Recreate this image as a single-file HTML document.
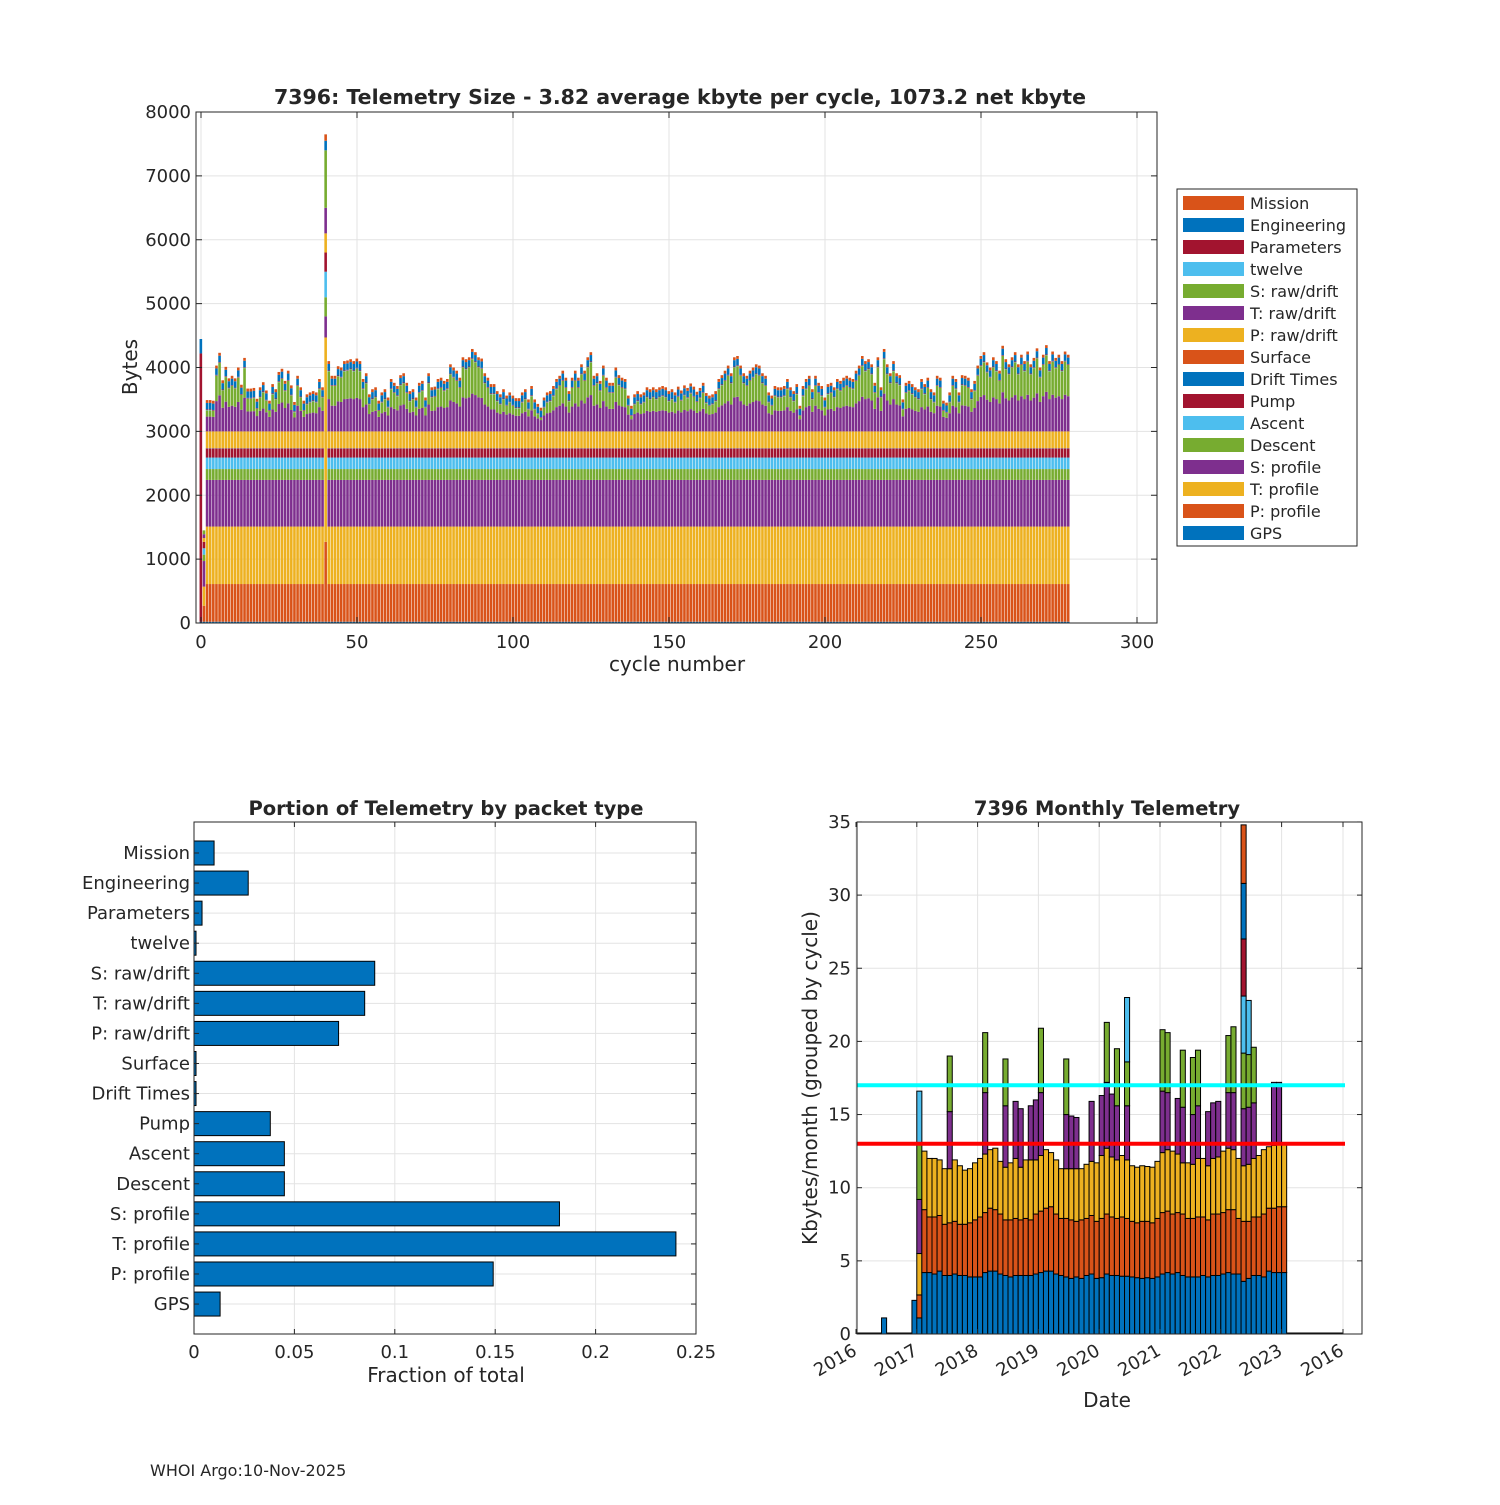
<!DOCTYPE html>
<html><head><meta charset="utf-8">
<style>
html,body{margin:0;padding:0;background:#fff;}
svg text{font-family:"DejaVu Sans","Liberation Sans",sans-serif;fill:#262626;}
</style></head>
<body>
<svg id="fig" width="1500" height="1500" viewBox="0 0 1500 1500" xmlns="http://www.w3.org/2000/svg">
<rect width="1500" height="1500" fill="#fff"/>
<g id="top"></g>
<g id="bl"></g>
<g id="br"></g>
<text x="150" y="1476" font-size="16">WHOI Argo:10-Nov-2025</text>
</svg>
<script>
// ---------- TOP CHART DATA ----------
const layerNames = ["GPS","P: profile","T: profile","S: profile","Descent","Ascent","Pump","Drift Times","Surface","P: raw/drift","T: raw/drift","S: raw/drift","twelve","Parameters","Engineering","Mission"];
const layerColors = ["#0072BD","#D95319","#EDB120","#7E2F8E","#77AC30","#4DBEEE","#A2142F","#0072BD","#D95319","#EDB120","#7E2F8E","#77AC30","#4DBEEE","#A2142F","#0072BD","#D95319"];
const typicalLayerBytes = [20,590,900,730,170,180,140,5,5,260,150,0,5,10,100,45];
const rawDriftTShare = 0.45;
const cycleTotals = [
4446,1450,3490,3490,3480,4030,4230,3800,4010,3830,3870,3830,4000,3730,4150,3670,3670,3680,3510,3690,
3770,3640,3480,3740,3660,3930,3980,3790,3950,3720,3460,3870,3690,3480,3580,3610,3630,3610,3820,3690,
7650,4100,3870,3870,4020,4000,4100,4110,4130,4100,4140,4100,3820,3910,3580,3660,3690,3480,3610,3660,
3530,3820,3760,3710,3880,3910,3760,3630,3660,3530,3760,3790,3530,3910,3690,3700,3820,3840,3790,3820,
4050,4000,3950,3840,4160,4130,4160,4290,4240,4160,4140,3910,3840,3740,3740,3630,3580,3660,3560,3610,
3560,3520,3520,3610,3660,3500,3710,3500,3430,3370,3530,3610,3630,3710,3820,3870,3950,3840,3630,3840,
3950,3840,4050,3950,4160,4240,3870,3910,3790,4030,3840,3760,3760,4000,3880,3840,3820,3560,3400,3580,
3630,3580,3610,3690,3660,3690,3660,3690,3710,3690,3630,3660,3610,3700,3640,3720,3680,3750,3700,3620,
3680,3760,3600,3560,3580,3630,3820,3880,3950,4030,3910,4160,4180,4030,3910,3870,3950,4000,4050,4030,
3910,3870,3610,3560,3710,3690,3690,3710,3820,3690,3630,3740,3400,3710,3820,3870,3660,3870,3760,3710,
3530,3740,3760,3690,3820,3790,3840,3870,3840,3820,3950,4030,4180,4100,4130,4050,3760,4160,3690,4290,
4050,3910,4100,3910,3880,3500,3760,3790,3740,3690,3660,3820,3740,3840,3660,3610,3870,3840,3480,3450,
3610,3870,3820,3610,3880,3870,3840,3660,3790,4030,4180,4240,4080,4000,4160,4100,3950,4340,4130,4050,
4160,4240,4050,4200,4100,4250,4050,4150,4300,4000,4200,4350,4100,4250,4150,4200,4100,4250,4200];
const specialCycles = {
 0:[20,0,0,0,0,0,0,0,0,0,0,0,0,4200,226,0],
 1:[20,250,300,400,100,100,100,0,0,60,60,60,0,0,0,0],
 40:[20,1250,3200,330,300,400,300,0,0,300,400,900,0,0,150,100]
};
const yTicksTop = [0,1000,2000,3000,4000,5000,6000,7000,8000];
const xTicksTop = [0,50,100,150,200,250,300];

// ---------- BOTTOM LEFT DATA ----------
const packetNames = ["Mission","Engineering","Parameters","twelve","S: raw/drift","T: raw/drift","P: raw/drift","Surface","Drift Times","Pump","Ascent","Descent","S: profile","T: profile","P: profile","GPS"];
const packetFractions = [0.010,0.027,0.004,0.001,0.090,0.085,0.072,0.001,0.001,0.038,0.045,0.045,0.182,0.240,0.149,0.013];
const fracTicks = [0,0.05,0.1,0.15,0.2,0.25];
const fracTickLabels = ["0","0.05","0.1","0.15","0.2","0.25"];

// ---------- BOTTOM RIGHT DATA ----------
const monthColors = ["#0072BD","#D95319","#EDB120","#7E2F8E","#77AC30","#4DBEEE","#A2142F","#0072BD","#D95319"];
const firstMonthYear = 2017.0;
const monthLevels = [
[1.1,2.67,5.5,9.2,13.0,16.6],[4.2,8.5,12.5],[4.2,8.0,12.0],[4.1,8.0,12.0],[4.3,8.1,11.9],[4.0,7.5,11.3],
[4.0,7.6,11.3,15.2,19.0],[4.1,7.7,11.9],[4.0,7.5,11.5],[4.0,7.5,11.2],[3.9,7.6,11.3],[3.9,7.8,11.7],
[3.9,8.0,12.0],[4.2,8.3,12.3,16.5,20.6],[4.3,8.6,12.6],[4.3,8.5,12.7],[4.1,8.2,11.8],[4.0,7.8,11.4,15.6,18.8],
[3.9,7.8,11.7],[4.0,7.9,12.0,15.9],[4.0,7.8,11.4,15.4],[4.0,7.9,11.9],[4.0,7.8,11.9,15.6],[4.1,8.2,11.9,16.0],
[4.2,8.4,12.2,16.5,20.9],[4.3,8.6,12.6],[4.3,8.7,12.4],[4.1,8.2,11.9],[4.0,7.9,11.3],[3.9,7.9,11.3,15.0,18.8],
[3.8,7.8,11.3,14.9],[3.9,7.7,11.3,14.8],[3.8,7.8,11.3],[4.0,7.9,11.6],[4.1,8.1,11.8,15.9],[3.8,7.7,11.7],
[3.85,7.9,12.2,16.3],[4.1,8.2,12.7,17.2,21.3],[4.0,8.0,12.1,16.4],[4.0,7.9,11.9,15.6,19.5],[3.95,8.0,12.2],[3.95,7.9,11.9,15.6,18.6,23.0],
[3.9,7.7,11.5],[3.85,7.6,11.4],[3.8,7.7,11.5],[3.85,7.7,11.45],[3.8,7.6,11.4],[3.9,7.9,11.8],
[4.1,8.3,12.4,16.6,20.8],[4.2,8.4,12.6,16.5,20.6],[4.1,8.2,12.5],[4.2,8.3,12.3,16.1],[4.0,8.2,11.7,15.5,19.4],[3.9,7.9,11.7],
[3.9,7.9,11.6,15.0,18.9],[3.9,8.0,12.0,15.6,19.4],[4.0,8.0,12.0],[3.9,7.8,11.5,15.2],[4.0,8.2,12.0,15.8],[4.0,8.2,12.1,15.9],
[4.1,8.3,12.5],[4.2,8.5,12.7,16.5,20.4],[4.1,8.5,12.6,16.5,21.0],[4.1,7.9,12.0],[3.6,7.7,11.5,15.4,19.2,23.1,27.0,30.8,34.8],[3.8,7.7,11.6,15.5,19.1,22.8],
[4.0,8.0,12.0,15.8,19.6],[4.0,8.0,12.2],[3.9,8.2,12.6],[4.3,8.6,12.8],[4.2,8.6,12.9,17.2],[4.2,8.7,13.0,17.2],[4.2,8.7,13.0]];
const earlyBarYears = [2016.42,2016.92];
const earlyBarValues = [1.1,2.3];
const monthlyRefLines = [17.0,13.0];
const refLineColors = ["#00FFFF","#FF0000"];
const monthYTicks = [0,5,10,15,20,25,30,35];
const dateTickYears = [2016,2017,2018,2019,2020,2021,2022,2023];
const dateTickLabels = ["2016","2017","2018","2019","2020","2021","2022","2023"];

const NS="http://www.w3.org/2000/svg";
function mk(parent,tag,attrs,text){const e=document.createElementNS(NS,tag);for(const k in attrs)e.setAttribute(k,attrs[k]);if(text!==undefined)e.textContent=text;parent.appendChild(e);return e;}
const GRID="#e3e3e3", AX="#262626";

// ================= TOP =================
(function(){
 const g=document.getElementById('top');
 const L=196,R=1157,T=112,B=623;
 const x=v=>201+v*3.12, y=v=>B-(v/8000)*(B-T);
 yTicksTop.forEach(t=>{const l=mk(g,'line',{x1:L,x2:R,y1:y(t),y2:y(t),stroke:GRID});
  });
 xTicksTop.forEach(t=>{const l=mk(g,'line',{x1:x(t),x2:x(t),y1:T,y2:B,stroke:GRID});
  });
 cycleTotals.forEach((tot,i)=>{
  let vals;
  if(specialCycles[i]) vals=specialCycles[i].slice();
  else { vals=typicalLayerBytes.slice(); let s=0; vals.forEach(v=>s+=v);
    const ex=Math.max(tot-s,40); vals[10]+=ex*rawDriftTShare; vals[11]=ex*(1-rawDriftTShare); }
  let acc=0;
  vals.forEach((v,k)=>{ if(v<=0) return;
   const r=mk(g,'rect',{x:x(i)-1.45,width:2.6,y:y(acc+v),height:Math.max(y(acc)-y(acc+v),0),fill:layerColors[k]});
   
   
   acc+=v;});
 });
 mk(g,'rect',{x:L,y:T,width:R-L,height:B-T,fill:'none',stroke:AX,'stroke-width':1});
 yTicksTop.forEach(t=>{mk(g,'line',{x1:L,x2:L+6,y1:y(t),y2:y(t),stroke:AX});mk(g,'line',{x1:R-6,x2:R,y1:y(t),y2:y(t),stroke:AX});
  const tx=mk(g,'text',{x:L-5,y:y(t)+6,'font-size':18,'text-anchor':'end'},String(t));
  });
 xTicksTop.forEach(t=>{mk(g,'line',{x1:x(t),x2:x(t),y1:B,y2:B-6,stroke:AX});mk(g,'line',{x1:x(t),x2:x(t),y1:T,y2:T+6,stroke:AX});
  const tx=mk(g,'text',{x:x(t),y:B+25,'font-size':18,'text-anchor':'middle'},String(t));
  });
 let t=mk(g,'text',{x:680,y:104,'font-size':20.5,'font-weight':'bold','text-anchor':'middle',fill:'#000'},'7396: Telemetry Size - 3.82 average kbyte per cycle, 1073.2 net kbyte');
 
 t=mk(g,'text',{x:677,y:671,'font-size':20,'text-anchor':'middle'},'cycle number');
 
 t=mk(g,'text',{x:137,y:367,'font-size':20,'text-anchor':'middle',transform:'rotate(-90 137 367)'},'Bytes');
 
 const lg=mk(g,'g',{});
 
 mk(lg,'rect',{x:1177,y:189,width:180,height:357,fill:'#fff',stroke:AX});
 for(let k=15;k>=0;k--){const row=15-k; const cy=203+row*22;
  const e=mk(lg,'g',{});
  
  mk(e,'rect',{x:1183,y:cy-7,width:61,height:14,fill:layerColors[k]});
  mk(e,'text',{x:1250,y:cy+6,'font-size':16},layerNames[k]);}
})();

// ================= BOTTOM LEFT =================
(function(){
 const g=document.getElementById('bl');
 const L=194,R=696,T=822,B=1334;
 const x=v=>L+v/0.25*(R-L), y=i=>853+i*30.07;
 fracTicks.forEach(t=>{const l=mk(g,'line',{x1:x(t),x2:x(t),y1:T,y2:B,stroke:GRID});
  });
 packetNames.forEach((n,i)=>{mk(g,'line',{x1:L,x2:R,y1:y(i),y2:y(i),stroke:GRID});});
 packetFractions.forEach((v,i)=>{const r=mk(g,'rect',{x:L,y:y(i)-12,width:x(v)-L,height:24,fill:'#0072BD',stroke:'#000','stroke-width':1});
  
  });
 mk(g,'rect',{x:L,y:T,width:R-L,height:B-T,fill:'none',stroke:AX});
 fracTicks.forEach((t,i)=>{mk(g,'line',{x1:x(t),x2:x(t),y1:B,y2:B-5,stroke:AX});mk(g,'line',{x1:x(t),x2:x(t),y1:T,y2:T+5,stroke:AX});
  const tx=mk(g,'text',{x:x(t),y:B+24,'font-size':18,'text-anchor':'middle'},fracTickLabels[i]);
  });
 packetNames.forEach((n,i)=>{mk(g,'line',{x1:L,x2:L+5,y1:y(i),y2:y(i),stroke:AX});mk(g,'line',{x1:R-5,x2:R,y1:y(i),y2:y(i),stroke:AX});
  const tx=mk(g,'text',{x:L-4,y:y(i)+6,'font-size':18,'text-anchor':'end'},n);
  });
 let t=mk(g,'text',{x:446,y:815,'font-size':19.5,'font-weight':'bold','text-anchor':'middle',fill:'#000'},'Portion of Telemetry by packet type');
 
 t=mk(g,'text',{x:446,y:1382,'font-size':20,'text-anchor':'middle'},'Fraction of total');
 
})();

// ================= BOTTOM RIGHT =================
(function(){
 const g=document.getElementById('br');
 const L=857,R=1362,T=822,B=1334;
 const xd=yr=>856+(yr-2016)*60.8, y=v=>B-v*14.63, mw=60.8/12;
 monthYTicks.forEach(t=>{mk(g,'line',{x1:L,x2:R,y1:y(t),y2:y(t),stroke:GRID});});
 const dticks=dateTickYears.map(xd).concat([1343]);
 dticks.forEach(px=>{mk(g,'line',{x1:px,x2:px,y1:T,y2:B,stroke:GRID});});
 mk(g,'line',{x1:L,x2:917,y1:B-0.5,y2:B-0.5,stroke:'#000','stroke-width':2});
 mk(g,'line',{x1:1285,x2:1343,y1:B-0.5,y2:B-0.5,stroke:'#000','stroke-width':2});
 earlyBarYears.forEach((yr,i)=>{const r=mk(g,'rect',{x:xd(yr),y:y(earlyBarValues[i]),width:mw,height:y(0)-y(earlyBarValues[i]),fill:'#0072BD',stroke:'#000','stroke-width':1});
  });
 monthLevels.forEach((lv,i)=>{const x0=xd(firstMonthYear+i/12); let prev=0;
  lv.forEach((top,k)=>{const r=mk(g,'rect',{x:x0,y:y(top),width:mw,height:y(prev)-y(top),fill:monthColors[k],stroke:'#000','stroke-width':1});
   prev=top;});});
 monthlyRefLines.forEach((v,i)=>{const l=mk(g,'line',{x1:857,x2:1345,y1:y(v),y2:y(v),stroke:refLineColors[i],'stroke-width':4});
  });
 mk(g,'rect',{x:L,y:T,width:R-L,height:B-T,fill:'none',stroke:AX});
 monthYTicks.forEach(t=>{mk(g,'line',{x1:L,x2:L+5,y1:y(t),y2:y(t),stroke:AX});mk(g,'line',{x1:R-5,x2:R,y1:y(t),y2:y(t),stroke:AX});
  const tx=mk(g,'text',{x:L-6,y:y(t)+6,'font-size':18,'text-anchor':'end'},String(t));
  });
 const dlabels=dateTickLabels.concat(["2016"]);
 dticks.forEach((px,i)=>{mk(g,'line',{x1:px,x2:px,y1:B,y2:B-5,stroke:AX});mk(g,'line',{x1:px,x2:px,y1:T,y2:T+5,stroke:AX});
  const tx=mk(g,'text',{x:px+2,y:B+20,'font-size':18,'text-anchor':'end',transform:`rotate(-30 ${px+2} ${B+20})`},dlabels[i]);
  });
 let t=mk(g,'text',{x:1107,y:815,'font-size':19.5,'font-weight':'bold','text-anchor':'middle',fill:'#000'},'7396 Monthly Telemetry');
 
 t=mk(g,'text',{x:1107,y:1407,'font-size':20,'text-anchor':'middle'},'Date');
 
 t=mk(g,'text',{x:817,y:1078,'font-size':20,'text-anchor':'middle',transform:'rotate(-90 817 1078)'},'Kbytes/month (grouped by cycle)');
 
})();
</script>
</body></html>
